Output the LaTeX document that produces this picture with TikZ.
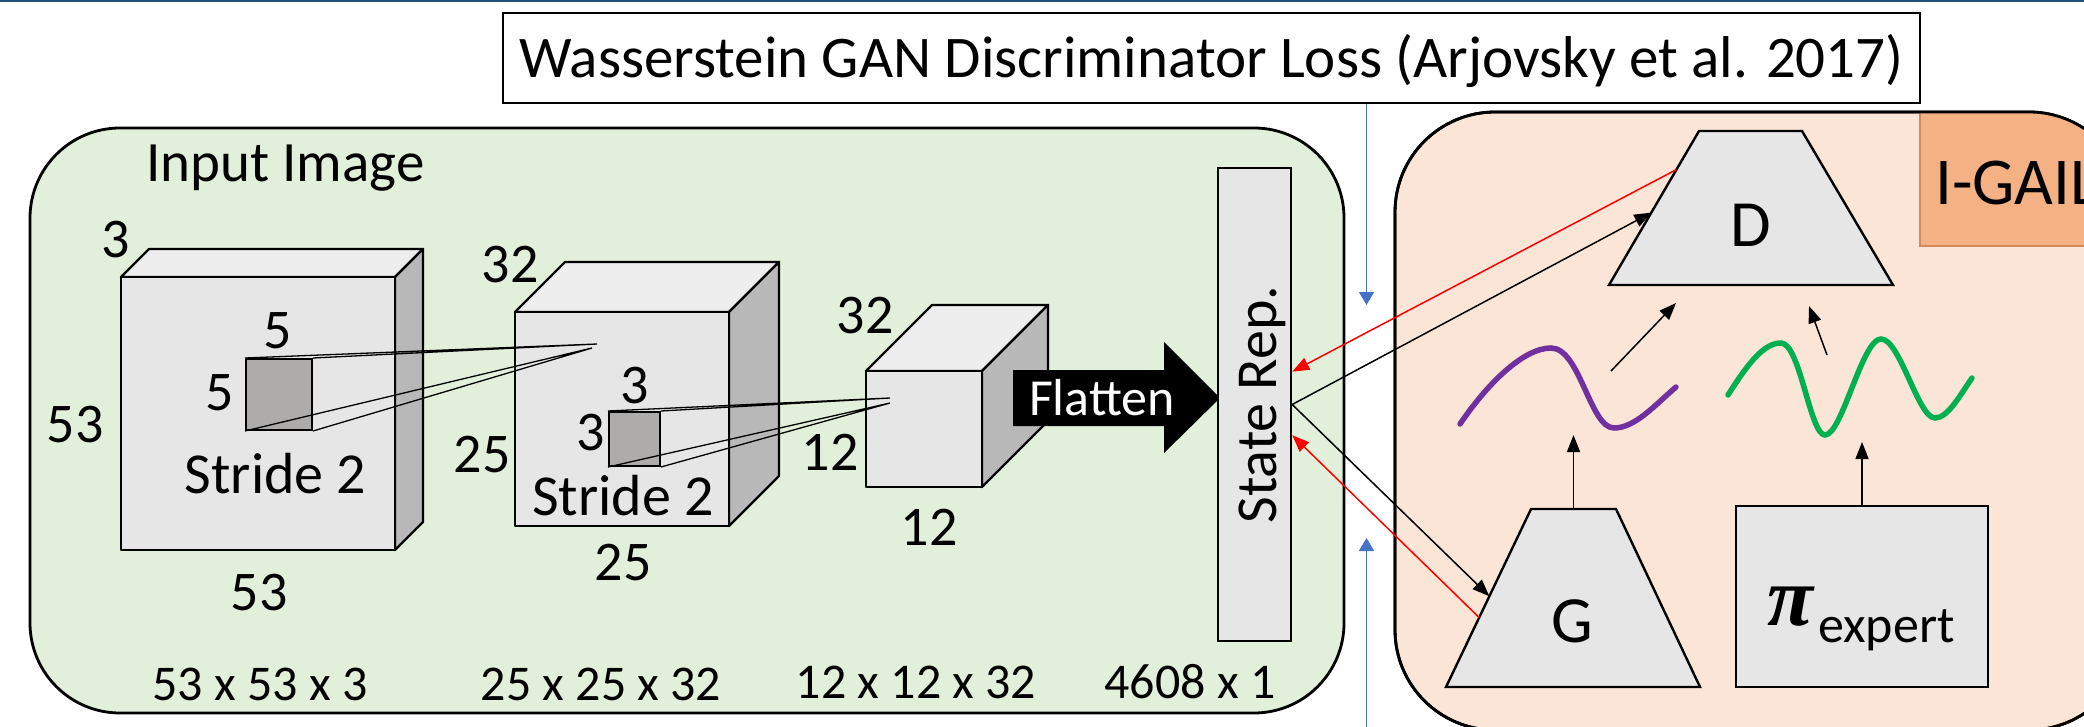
\documentclass[tikz,border=0pt]{standalone}
\usepackage{fontspec}
\setmainfont{Carlito}
\newfontfamily\pifont{Liberation Serif}
\usepackage{xcolor}
\usetikzlibrary{arrows.meta, positioning, calc}

\definecolor{topblue}{HTML}{1F4E79}
\definecolor{greenbg}{HTML}{E2EFDA}
\definecolor{orangebg}{HTML}{FBE5D6}
\definecolor{gailorange}{HTML}{F4B183}
\definecolor{gailedge}{HTML}{D08A5C}
\definecolor{frontgray}{HTML}{E6E6E6}
\definecolor{topgray}{HTML}{EDEDED}
\definecolor{sidegray}{HTML}{B8B8B8}
\definecolor{kernelgray}{HTML}{AEABAB}
\definecolor{lossblue}{HTML}{4472C4}
\definecolor{wavepurple}{HTML}{7030A0}
\definecolor{wavegreen}{HTML}{00B050}

\begin{document}
\begin{tikzpicture}[
    x=1pt, y=-1pt,
    panel/.style={draw=black, line width=2.8pt, rounded corners=90pt},
    face/.style={draw=black, line width=2.4pt, line join=round},
    kernel/.style={rectangle, draw=black, line width=2pt, fill=kernelgray, inner sep=0pt},
    gan/.style={draw=black, line width=2.4pt, fill=frontgray},
    dim/.style={inner sep=0pt, anchor=base, font=\fontsize{56}{60}\selectfont},
    sizes/.style={dim, font=\fontsize{50}{54}\selectfont},
    field/.style={draw=black, line width=1.3pt},
    arr/.style={-{Triangle[length=17pt, width=13pt]}, line width=1.5pt},
    redarr/.style={arr, color=red},
    lossarr/.style={-{Triangle[length=13pt, width=15pt]}, line width=1.6pt, color=lossblue},
    wave/.style={line width=5.5pt, line cap=round}
]
\useasboundingbox (0,0) rectangle (2084,727);
\fill[topblue] (0,0) rectangle (2084,2.5);

% panels
\draw[panel, fill=greenbg] (30,128) rectangle (1344,713);
\draw[panel, fill=orangebg, rounded corners=100pt] (1395,112) rectangle (2129,730);
\begin{scope}
  \clip[rounded corners=100pt] (1395,112) rectangle (2129,730);
  \draw[fill=gailorange, draw=gailedge, line width=1.2pt] (1920,100) rectangle (2150,246);
\end{scope}
\draw[panel, rounded corners=100pt] (1395,112) rectangle (2129,730);
\node[anchor=base west, inner sep=0pt, font=\fontsize{67}{70}\selectfont] (gail) at (1935,205) {I-GAIL};

% loss box
\node[draw=black, line width=1.8pt, fill=white, minimum width=1417pt, minimum height=90pt, inner sep=0pt,
      text height=40pt, text depth=0pt, font=\fontsize{59}{62}\selectfont] (loss) at (1211.5,58)
      {Wasserstein GAN Discriminator Loss (Arjovsky et al. 2017)};

% input cube
\draw[face, fill=topgray] (121,277) -- (149,249) -- (423,249) -- (395,277) -- cycle;
\draw[face, fill=sidegray] (395,277) -- (423,249) -- (423,522) -- (395,550) -- cycle;
\draw[face, fill=frontgray] (121,277) rectangle (395,550);
% second cube
\draw[face, fill=topgray] (515,312) -- (565,262) -- (779,262) -- (729,312) -- cycle;
\draw[face, fill=sidegray] (729,312) -- (779,262) -- (779,476) -- (729,526) -- cycle;
\draw[face, fill=frontgray] (515,312) rectangle (729,526);
% third cube
\draw[face, fill=topgray] (866,371) -- (932,305) -- (1048,305) -- (982,371) -- cycle;
\draw[face, fill=sidegray] (982,371) -- (1048,305) -- (1048,421) -- (982,487) -- cycle;
\draw[face, fill=frontgray] (866,371) rectangle (982,487);

% kernels
\node[kernel, minimum width=66pt, minimum height=71pt] (k1) at (279,394.5) {};
\node[kernel, minimum width=51pt, minimum height=54pt] (k2) at (634.5,439) {};
\coordinate (f1a) at (597,344);
\coordinate (f1b) at (592,348);
\coordinate (f2a) at (890,398);
\coordinate (f2b) at (890,403);
\draw[field] (k1.north west) -- (f1a) -- (k1.north east);
\draw[field] (k1.south west) -- (f1b) -- (k1.south east);
\draw[field] (k2.north west) -- (f2a) -- (k2.north east);
\draw[field] (k2.south west) -- (f2b) -- (k2.south east);

% labels
\node[dim, font=\fontsize{57}{60}\selectfont] (input) at (285.5,182) {Input Image};
\node[dim] (c1d) at (116,258) {3};
\node[dim] (k1w) at (278,348) {5};
\node[dim] (k1h) at (220,410) {5};
\node[dim] (c1h) at (75,442) {53};
\node[dim, font=\fontsize{58}{60}\selectfont] (s1) at (275.5,493) {Stride 2};
\node[dim] (c1w) at (259,610) {53};
\node[sizes] (n1) at (260,700) {53 x 53 x 3};
\node[dim] (c2d) at (510,282) {32};
\node[dim] (c2h) at (482,472) {25};
\node[dim] (k2w) at (635,403) {3};
\node[dim] (k2h) at (591,450) {3};
\node[dim, font=\fontsize{58}{60}\selectfont] (s2) at (623,515) {Stride 2};
\node[dim] (c2w) at (623,580) {25};
\node[sizes] (n2) at (601,700) {25 x 25 x 32};
\node[dim] (c3d) at (865,333) {32};
\node[dim] (c3h) at (830,470) {12};
\node[dim] (c3w) at (929,545) {12};
\node[sizes] (n3) at (916,698) {12 x 12 x 32};
\node[sizes] (n4) at (1190,698) {4608 x 1};

% flatten
\fill[black] (1013,370) -- (1164,370) -- (1164,342) -- (1220,398) -- (1164,453) -- (1164,426) -- (1013,426) -- cycle;
\node[inner sep=0pt, anchor=base, text=white, font=\fontsize{52}{54}\selectfont] (flatten) at (1102,415) {Flatten};

% state representation
\node[draw=black, line width=2.4pt, fill=frontgray, minimum width=73pt, minimum height=473pt, inner sep=0pt] (state) at (1254.5,404.5) {};
\node[rotate=90, inner sep=0pt, text height=43pt, text depth=0pt, font=\fontsize{58}{60}\selectfont] (staterep) at (state.center) {State Rep.};

% discriminator and generator
\coordinate (Dtl) at (1699,131);
\coordinate (Dtr) at (1802,131);
\coordinate (Dbr) at (1893,285);
\coordinate (Dbl) at (1609,285);
\draw[gan] (Dtl) -- (Dtr) -- (Dbr) -- (Dbl) -- cycle;
\node[dim, font=\fontsize{66}{70}\selectfont] (D) at (1751,247) {D};
\coordinate (Gtl) at (1531,509);
\coordinate (Gtr) at (1616,509);
\coordinate (Gbr) at (1700,687);
\coordinate (Gbl) at (1446,687);
\draw[gan] (Gtl) -- (Gtr) -- (Gbr) -- (Gbl) -- cycle;
\node[dim, font=\fontsize{66}{70}\selectfont] (G) at (1572,642) {G};

% expert policy
\node[draw=black, line width=2.4pt, fill=frontgray, minimum width=252pt, minimum height=181pt, inner sep=0pt] (expert) at (1862,596.5) {};
\node[anchor=base west, inner sep=0pt, font=\pifont\bfseries\itshape\fontsize{84}{88}\selectfont] (pi) at (1767,625) {π};
\node[anchor=base west, inner sep=0pt, font=\fontsize{52}{56}\selectfont] (sub) at (1818,642) {expert};

% trajectories
\draw[wave, wavepurple] (1460,424) .. controls (1490,380) and (1525,348) .. (1551,348)
    .. controls (1580,348) and (1590,428) .. (1614,428) .. controls (1635,428) and (1655,405) .. (1676,387);
\draw[wave, wavegreen] (1728,395) .. controls (1750,360) and (1765,343) .. (1781,343)
    .. controls (1800,343) and (1810,435) .. (1825,435) .. controls (1842,435) and (1862,339) .. (1881,339)
    .. controls (1900,339) and (1918,418) .. (1935,418) .. controls (1948,418) and (1960,395) .. (1972,378);

% connectors
\coordinate (gwave) at (1573.5,435);
\coordinate (ewave) at (1862,442);
\coordinate (pout) at (1611,371);
\coordinate (pin) at (1676,303);
\coordinate (eout) at (1827,355);
\coordinate (ein) at (1809,306);
\draw[arr] ($(Gtl)!0.5!(Gtr)$) -- (gwave);
\draw[arr] (expert.north) -- (ewave);
\draw[arr] (pout) -- (pin);
\draw[arr] (eout) -- (ein);
\draw[arr] (state.east) -- ($(Dtl)!0.53!(Dbl)$);
\draw[arr] (state.east) -- ($(Gtl)!0.49!(Gbl)$);
\draw[redarr] ($(Dtl)!0.25!(Dbl)$) -- ($(state.north east)!0.431!(state.south east)$);
\draw[redarr] ($(Gtl)!0.61!(Gbl)$) -- ($(state.north east)!0.5645!(state.south east)$);

% loss feedback
\coordinate (lossin) at (1366.5,305);
\coordinate (lossbase) at (1366.5,740);
\coordinate (lossup) at (1366.5,538);
\draw[lossarr] (loss.south -| lossin) -- (lossin);
\draw[lossarr] (lossbase) -- (lossup);
\end{tikzpicture}
\end{document}
